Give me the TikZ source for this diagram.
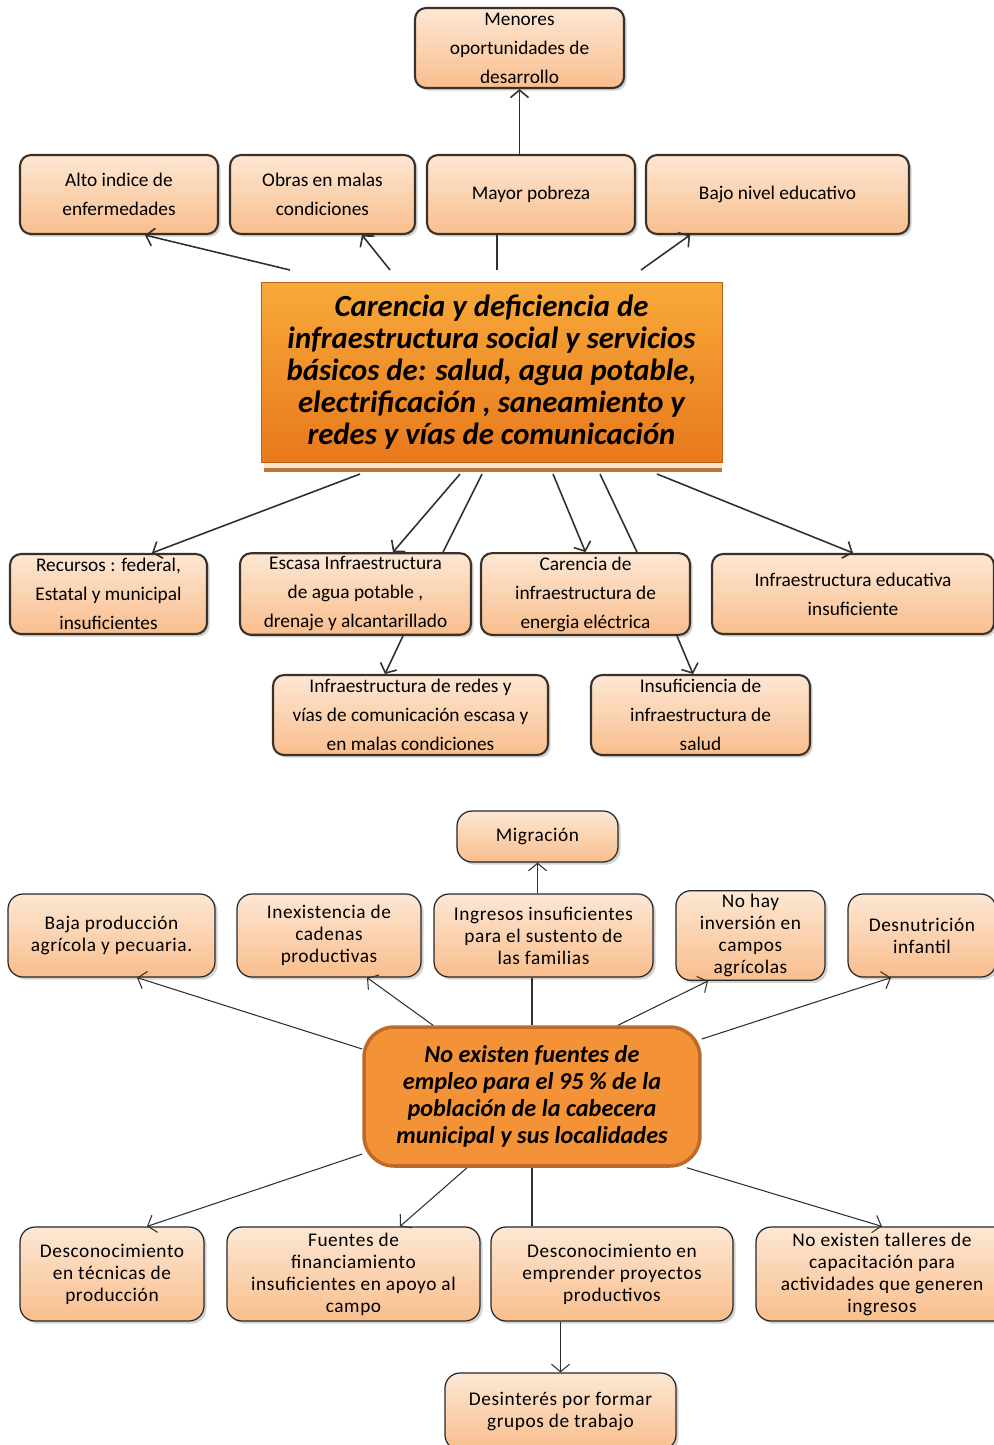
\documentclass[tikz,border=0pt]{standalone}
\usepackage{fontspec}
\setmainfont{Carlito}
\usetikzlibrary{arrows.meta,shadows}

\definecolor{durazno}{HTML}{FDE7D4}
\definecolor{duraznoosc}{HTML}{F9BE8D}
\definecolor{bordecaja}{HTML}{3B3128}
\definecolor{naranja}{HTML}{F39237}
\definecolor{naranjaborde}{HTML}{BD6A2A}
\definecolor{naranjaclaro}{HTML}{F8A93A}
\definecolor{naranjaosc}{HTML}{E8791C}
\definecolor{zocalo}{HTML}{FCE4C8}
\definecolor{zocalosombra}{HTML}{B8793F}
\definecolor{flechagris}{HTML}{303030}

\tikzset{
  caja/.style={rectangle, rounded corners=0.22cm, draw=bordecaja, line width=1.2pt,
    top color=durazno, bottom color=duraznoosc, align=center, inner sep=2pt,
    drop shadow={shadow xshift=1.5pt, shadow yshift=-1.5pt, opacity=0.35},
    font=\fontsize{11}{16.5}\selectfont},
  cajab/.style={caja, draw=black!85, line width=0.7pt, rounded corners=0.3cm,
    font=\fontsize{11}{12.5}\selectfont\addfontfeature{LetterSpace=3}},
  flecha/.style={-{Straight Barb[length=1.5mm,width=3.6mm]}, line width=0.9pt, draw=flechagris},
  flechab/.style={flecha, line width=0.6pt},
  linea/.style={line width=0.9pt, draw=flechagris},
  lineab/.style={linea, line width=0.6pt},
}

\begin{document}
\begin{tikzpicture}[x=0.02cm, y=-0.02cm]
	\useasboundingbox (0,0) rectangle (994,1445);

	% primer arbol
	\node[caja, minimum width=4.18cm, minimum height=1.6cm] (menores) at (519.5,48) {Menores\\oportunidades de\\desarrollo};
	\node[caja, minimum width=3.96cm, minimum height=1.58cm] (alto) at (119,194.5) {Alto indice de\\enfermedades};
	\node[caja, minimum width=3.7cm, minimum height=1.58cm] (obras) at (322.5,194.5) {Obras en malas\\condiciones};
	\node[caja, minimum width=4.16cm, minimum height=1.58cm] (mayor) at (531,194.5) {Mayor pobreza};
	\node[caja, minimum width=5.26cm, minimum height=1.58cm] (bajo) at (777.5,194.5) {Bajo nivel educativo};

	\fill[zocalosombra] (264,464) rectangle (722,472);
	\fill[zocalo] (264,460) rectangle (722,468);
	\node[rectangle, minimum width=9.22cm, minimum height=3.6cm, top color=naranjaclaro, bottom color=naranjaosc,
		draw=naranjaosc!80!black, line width=0.4pt, align=center,
		font=\bfseries\itshape\fontsize{17.5}{18.3}\selectfont] (carencia) at (491.5,372)
		{Carencia y deficiencia de\\infraestructura social y servicios\\básicos de: salud, agua potable,\\electrificación , saneamiento y\\redes y vías de comunicación};

	\node[caja, minimum width=3.94cm, minimum height=1.6cm] (recursos) at (108.5,594) {Recursos : federal,\\Estatal y municipal\\insuficientes};
	\node[caja, minimum width=4.62cm, minimum height=1.6cm] (escasa) at (355.5,594) {Escasa Infraestructura\\de agua potable ,\\drenaje y alcantarillado};
	\node[caja, minimum width=4.18cm, minimum height=1.6cm] (energia) at (585.5,594) {Carencia de\\infraestructura de\\energia eléctrica};
	\node[caja, minimum width=5.64cm, minimum height=1.6cm] (educativa) at (853,594) {Infraestructura educativa\\insuficiente};
	\node[caja, minimum width=5.5cm, minimum height=1.6cm] (redes) at (410.5,715) {Infraestructura de redes y\\vías de comunicación escasa y\\en malas condiciones};
	\node[caja, minimum width=4.38cm, minimum height=1.6cm] (salud) at (700.5,715) {Insuficiencia de\\infraestructura de\\salud};

	\coordinate (c1) at (290,270);
	\coordinate (c2) at (390,270);
	\coordinate (c3) at (497,270);
	\coordinate (c4) at (641,270);
	\coordinate (d1) at (360,474);
	\coordinate (d2) at (460,474);
	\coordinate (d3) at (482,474);
	\coordinate (d4) at (553,474);
	\coordinate (d5) at (600,474);
	\coordinate (d6) at (657,474);

	\draw[flecha] (menores.south |- mayor.north) -- (menores.south);
	\draw[flecha] (c1) -- ([xshift=0.52cm]alto.south);
	\draw[flecha] (c2) -- ([xshift=0.79cm]obras.south);
	\draw[linea] (c3) -- (c3 |- mayor.south);
	\draw[flecha] (c4) -- ([xshift=-1.75cm]bajo.south);

	\draw[flecha] (d1) -- ([xshift=0.87cm]recursos.north);
	\draw[flecha] (d2) -- ([xshift=0.75cm]escasa.north);
	\draw[linea] (d3) -- ([xshift=1.75cm]escasa.north);
	\draw[flecha] (d4) -- (energia.north);
	\draw[linea] (d5) -- ([xshift=1.03cm]energia.north);
	\draw[flecha] (d6) -- (educativa.north);
	\draw[flecha] ([xshift=0.95cm]escasa.south) -- ([xshift=-0.51cm]redes.north);
	\draw[flecha] ([xshift=1.83cm]energia.south) -- ([xshift=-0.15cm]salud.north);

	% segundo arbol
	\node[cajab, minimum width=3.22cm, minimum height=1.02cm] (migracion) at (537.5,836.5) {Migración};
	\node[cajab, minimum width=4.14cm, minimum height=1.66cm] (baja) at (111.5,935.5) {Baja producción\\agrícola y pecuaria.};
	\node[cajab, minimum width=3.68cm, minimum height=1.66cm] (cadenas) at (329,935.5) {Inexistencia de\\cadenas\\productivas};
	\node[cajab, minimum width=4.38cm, minimum height=1.66cm] (ingresos) at (543.5,935.5) {Ingresos insuficientes\\para el sustento de\\las familias};
	\node[cajab, minimum width=2.98cm, minimum height=1.66cm] (nohay) at (750.5,935.5) {No hay\\inversión en\\campos\\agrícolas};
	\node[cajab, minimum width=2.96cm, minimum height=1.66cm] (desnutricion) at (922,935.5) {Desnutrición\\infantil};

	\node[rectangle, rounded corners=0.6cm, minimum width=6.72cm, minimum height=2.78cm, fill=naranja,
		draw=naranjaborde, line width=2pt, align=center,
		font=\bfseries\itshape\fontsize{13.8}{15.4}\selectfont] (empleo) at (532,1096.5)
		{No existen fuentes de\\empleo para el 95 \% de la\\población de la cabecera\\municipal y sus localidades};

	\node[cajab, minimum width=3.68cm, minimum height=1.88cm] (tecnicas) at (112,1274) {Desconocimiento\\en técnicas de\\producción};
	\node[cajab, minimum width=5.06cm, minimum height=1.88cm] (fuentes) at (353.5,1274) {Fuentes de\\financiamiento\\insuficientes en apoyo al\\campo};
	\node[cajab, minimum width=4.84cm, minimum height=1.88cm] (emprender) at (612,1274) {Desconocimiento en\\emprender proyectos\\productivos};
	\node[cajab, minimum width=5.04cm, minimum height=1.88cm] (talleres) at (882,1274) {No existen talleres de\\capacitación para\\actividades que generen\\ingresos};
	\node[cajab, minimum width=4.62cm, minimum height=1.54cm] (desinteres) at (560.5,1411.5) {Desinterés por formar\\grupos de trabajo};

	\draw[flechab] (migracion.south |- ingresos.north) -- (migracion.south);
	\draw[flechab] ([yshift=0.95cm]empleo.west) -- ([xshift=0.51cm]baja.south);
	\draw[flechab] ([xshift=-1.98cm]empleo.north) -- ([xshift=0.76cm]cadenas.south);
	\draw[lineab] (empleo.north) -- (empleo.north |- ingresos.south);
	\draw[flechab] ([xshift=1.72cm]empleo.north) -- ([xshift=-0.85cm]nohay.south);
	\draw[flechab] ([yshift=1.15cm]empleo.east) -- ([xshift=-0.62cm]desnutricion.south);
	\draw[flechab] ([yshift=-1.15cm]empleo.west) -- ([xshift=0.7cm]tecnicas.north);
	\draw[flechab] ([xshift=-1.3cm]empleo.south) -- ([xshift=0.93cm]fuentes.north);
	\draw[lineab] (empleo.south) -- (empleo.south |- fuentes.north);
	\draw[flechab] ([xshift=3.1cm]empleo.south) -- (talleres.north);
	\draw[flechab] (desinteres.north |- emprender.south) -- (desinteres.north);
\end{tikzpicture}
\end{document}
